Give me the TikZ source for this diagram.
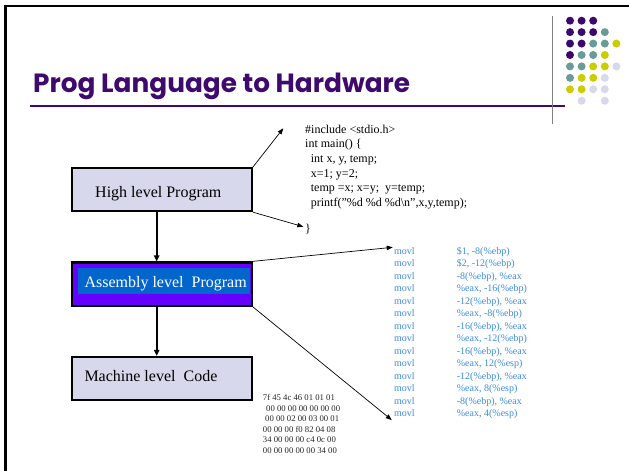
\documentclass[tikz,border=0pt]{standalone}
\usepackage{fontspec}
\setmainfont{Liberation Serif}
\newfontfamily\titlefont{Poppins}
\usetikzlibrary{arrows.meta}

\definecolor{titlepurple}{RGB}{62,10,110}
\definecolor{dotpurple}{RGB}{60,8,108}
\definecolor{dotteal}{RGB}{105,155,152}
\definecolor{dotyellow}{RGB}{204,204,0}
\definecolor{dotlav}{RGB}{216,216,236}
\definecolor{boxlav}{RGB}{216,216,236}
\definecolor{asmviolet}{RGB}{102,0,255}
\definecolor{asmblue}{RGB}{0,102,204}
\definecolor{asmtext}{RGB}{60,140,225}
\definecolor{hexgrey}{RGB}{40,40,40}

\newcommand{\dq}{\char"22\relax}

\tikzset{
  levelbox/.style={draw=black, line width=2.3pt, inner sep=0pt,
    minimum width=179.4pt},
  boxlabel/.style={anchor=base west, inner sep=0pt,
    font=\fontsize{16}{19}\selectfont},
  thinarrow/.style={line width=0.7pt, -{Triangle[length=6pt,width=4.5pt]}},
  flowarrow/.style={line width=2pt, -{Triangle[length=6pt,width=5.5pt]}},
  listing/.style={anchor=base west, inner sep=0pt},
}

\begin{document}
\begin{tikzpicture}[x=1pt,y=-1pt]
\useasboundingbox (0,0) rectangle (629,471);
\fill[white] (0,0) rectangle (629,471);

% slide frame (top and left edges)
\draw[line width=2.5pt] (5.3,471) -- (5.3,6.2) -- (629,6.2);

% title and rules
\node[anchor=base west, inner sep=0pt, text=titlepurple] (title) at (33,92)
  {\resizebox{377pt}{!}{\titlefont\bfseries Prog Language to Hardware}};
\draw[titlepurple, line width=2pt] (30,105.5) -- (565,105.5);
\draw[gray, line width=1.5pt] (552.7,16) -- (552.7,124);

% dot grid
\foreach \c/\r/\col in {
  0/0/dotpurple,1/0/dotpurple,2/0/dotpurple,
  0/1/dotpurple,1/1/dotpurple,2/1/dotpurple,3/1/dotteal,
  0/2/dotpurple,1/2/dotpurple,2/2/dotteal,3/2/dotteal,4/2/dotyellow,
  0/3/dotpurple,1/3/dotteal,2/3/dotteal,3/3/dotyellow,
  0/4/dotteal,1/4/dotteal,2/4/dotyellow,3/4/dotyellow,4/4/dotlav,
  0/5/dotteal,1/5/dotyellow,2/5/dotyellow,3/5/dotlav,
  0/6/dotyellow,1/6/dotyellow,2/6/dotlav,3/6/dotlav,
  1/7/dotlav,3/7/dotlav}
  \fill[\col] (570+11.6*\c, 20.7+11.43*\r) circle (4pt);

% the three levels
\node[levelbox, fill=boxlav, minimum height=42.7pt] (high) at (162,189.65) {};
\node[boxlabel] (highlabel) at (95,197.7) {High level Program};

\node[levelbox, fill=asmviolet, minimum height=43.2pt] (asm) at (162,284.1) {};
\fill[asmblue] (77.7,267.7) rectangle (250.3,294);
\node[boxlabel, text=white] (asmlabel) at (84.3,287.3) {Assembly level\ \ Program};

\node[levelbox, fill=boxlav, minimum height=43pt] (machine) at (162,378.5) {};
\node[boxlabel] (machinelabel) at (84.3,381.3) {Machine level\ \ Code};

\draw[flowarrow] ([xshift=-5.3pt]high.south) -- ([xshift=-5.3pt]asm.north);
\draw[flowarrow] ([xshift=-5.3pt]asm.south) -- ([xshift=-5.3pt]machine.north);

% C source
\node[listing] (csrc) at (305,133) {\fontsize{12}{14.7}\selectfont
  \begin{tabular}[t]{@{}l@{}}
  \#include <stdio.h>\\
  int main() \{\\
  \hspace{5.7pt}int x, y, temp;\\
  \hspace{5.7pt}x=1; y=2;\\
  \hspace{5.7pt}temp =x; x=y;\ \ y=temp;\\
  \hspace{5.7pt}printf(\dq\%d \%d \%d\textbackslash n\dq,x,y,temp);\\[10.9pt]
  \}
  \end{tabular}};
\coordinate (csrctop) at (283.3,128.3);
\coordinate (csrcend) at (303.3,226.7);
\draw[thinarrow] (high.north east) -- (csrctop);
\draw[thinarrow] (high.south east) -- (csrcend);

% assembly listing
\node[listing, text=asmtext] (asmsrc) at (394,254.5) {\fontsize{10}{12.48}\selectfont
  \begin{tabular}[t]{@{}p{62.7pt}@{}l@{}}
  movl & \$1, -8(\%ebp)\\
  movl & \$2, -12(\%ebp)\\
  movl & -8(\%ebp), \%eax\\
  movl & \%eax, -16(\%ebp)\\
  movl & -12(\%ebp), \%eax\\
  movl & \%eax, -8(\%ebp)\\
  movl & -16(\%ebp), \%eax\\
  movl & \%eax, -12(\%ebp)\\
  movl & -16(\%ebp), \%eax\\
  movl & \%eax, 12(\%esp)\\
  movl & -12(\%ebp), \%eax\\
  movl & \%eax, 8(\%esp)\\
  movl & -8(\%ebp), \%eax\\
  movl & \%eax, 4(\%esp)
  \end{tabular}};
\coordinate (asmtop) at (392.7,247.3);
\coordinate (asmend) at (391.7,420);
\draw[thinarrow] (asm.north east) -- (asmtop);
\draw[thinarrow] (asm.south east) -- (asmend);

% machine code bytes
\node[listing, text=hexgrey] (hex) at (262.7,400.5) {\fontsize{8.7}{10.6}\selectfont
  \begin{tabular}[t]{@{}l@{}}
  7f 45 4c 46 01 01 01\\
  \hspace{3.3pt}00 00 00 00 00 00 00\\
  \hspace{2.3pt}00 00 02 00 03 00 01\\
  00 00 00 f0 82 04 08\\
  34 00 00 00 c4 0c 00\\
  00 00 00 00 00 34 00
  \end{tabular}};
\end{tikzpicture}
\end{document}
